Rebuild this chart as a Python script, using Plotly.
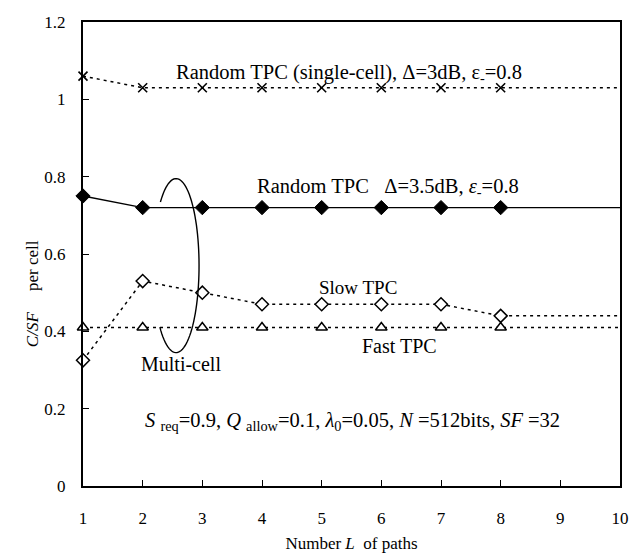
import numpy as np
import plotly.graph_objects as go

# ---- data ----
L = [1, 2, 3, 4, 5, 6, 7, 8]
L_end = 10
single_cell = [1.06, 1.03, 1.03, 1.03, 1.03, 1.03, 1.03, 1.03]
random_multi = [0.75, 0.72, 0.72, 0.72, 0.72, 0.72, 0.72, 0.72]
slow_tpc = [0.325, 0.53, 0.50, 0.47, 0.47, 0.47, 0.47, 0.44]
fast_tpc = [0.41, 0.41, 0.41, 0.41, 0.41, 0.41, 0.41, 0.41]
x_ticks = [1, 2, 3, 4, 5, 6, 7, 8, 9, 10]
y_ticks = [0, 0.2, 0.4, 0.6, 0.8, 1.0, 1.2]

FONT = "Liberation Serif"
fig = go.Figure()


def add_series(y, symbol, dash, msize, lw=1.5, mlw=1.5, fill="white"):
    xs = L + [L_end]
    ys = y + [y[-1]]
    sizes = [msize] * len(L) + [0]
    fig.add_trace(go.Scatter(
        x=xs, y=ys, mode="lines+markers",
        line=dict(color="black", width=lw, dash=dash),
        marker=dict(symbol=symbol, size=sizes, color=fill, opacity=1,
                    line=dict(color="black", width=mlw)),
        showlegend=False, cliponaxis=False,
    ))


add_series(single_cell, "x-thin", "3px,4px", 9, mlw=1.6, fill="black")
add_series(random_multi, "diamond", "solid", 11, lw=1.3, mlw=1, fill="black")
add_series(slow_tpc, "diamond", "3px,4px", 10, mlw=1.5, fill="white")
add_series(fast_tpc, "triangle-up", "3px,4px", 10, mlw=1.5, fill="white")

# ellipse (open arc) grouping the multi-cell curves
cx, cy, rx, ry = 2.56, 0.570, 0.385, 0.225
t = np.radians(np.linspace(133, -135, 80))
ex = cx + rx * np.cos(t)
ey = cy + ry * np.sin(t)
path = "M " + " L ".join(f"{a:.4f},{b:.4f}" for a, b in zip(ex, ey))
fig.add_shape(type="path", path=path, xref="x", yref="y",
              line=dict(color="black", width=1.4))


def ann(x, y, text, size=19, **kw):
    fig.add_annotation(x=x, y=y, text=text, showarrow=False,
                       font=dict(family=FONT, size=size, color="black"),
                       xref="x", yref="y", **kw)


ann(5.46, 1.067, "Random TPC (single-cell), Δ=3dB, ε<sub>-</sub>=0.8", size=20.5)
ann(6.11, 0.772, "Random TPC   Δ=3.5dB, <i>ε</i><sub>-</sub>=0.8", size=20.5)
ann(5.61, 0.513, "Slow TPC")
ann(6.31, 0.363, "Fast TPC", size=20)
ann(2.64, 0.316, "Multi-cell", size=20)
ann(5.51, 0.168, "<i>S</i> <sub>req</sub>=0.9, <i>Q</i> <sub>allow</sub>=0.1, "
                 "<i>λ</i><sub>0</sub>=0.05, <i>N</i> =512bits, <i>SF</i> =32", size=20.5)

# y-axis title (placed lower than centre, as in the reference)
fig.add_annotation(x=-0.115, y=0.415, xref="paper", yref="paper", showarrow=False,
                   textangle=-90, text="<i>C/SF</i>     per cell",
                   font=dict(family=FONT, size=17, color="black"))

fig.update_layout(
    width=637, height=556,
    margin=dict(l=83, r=17, t=22, b=70),
    paper_bgcolor="white", plot_bgcolor="white",
    font=dict(family=FONT, size=17, color="black"),
    xaxis=dict(range=[1, 10], tickvals=x_ticks, ticks="inside", ticklen=6,
               tickwidth=1.3, tickcolor="black", showgrid=False, zeroline=False,
               showline=True, linecolor="black", linewidth=2, mirror=True,
               ticklabelstandoff=16, automargin=False,
               tickfont=dict(family=FONT, size=17, color="black"),
               title=dict(text="Number <i>L</i>  of paths", standoff=10,
                          font=dict(family=FONT, size=17, color="black"))),
    yaxis=dict(range=[0, 1.2], tickvals=y_ticks, ticks="inside", ticklen=6,
               tickwidth=1.3, tickcolor="black", showgrid=False, zeroline=False,
               showline=True, linecolor="black", linewidth=2, mirror=True,
               ticklabelstandoff=12, automargin=False,
               tickfont=dict(family=FONT, size=17, color="black")),
)

fig.write_html("out.html")
